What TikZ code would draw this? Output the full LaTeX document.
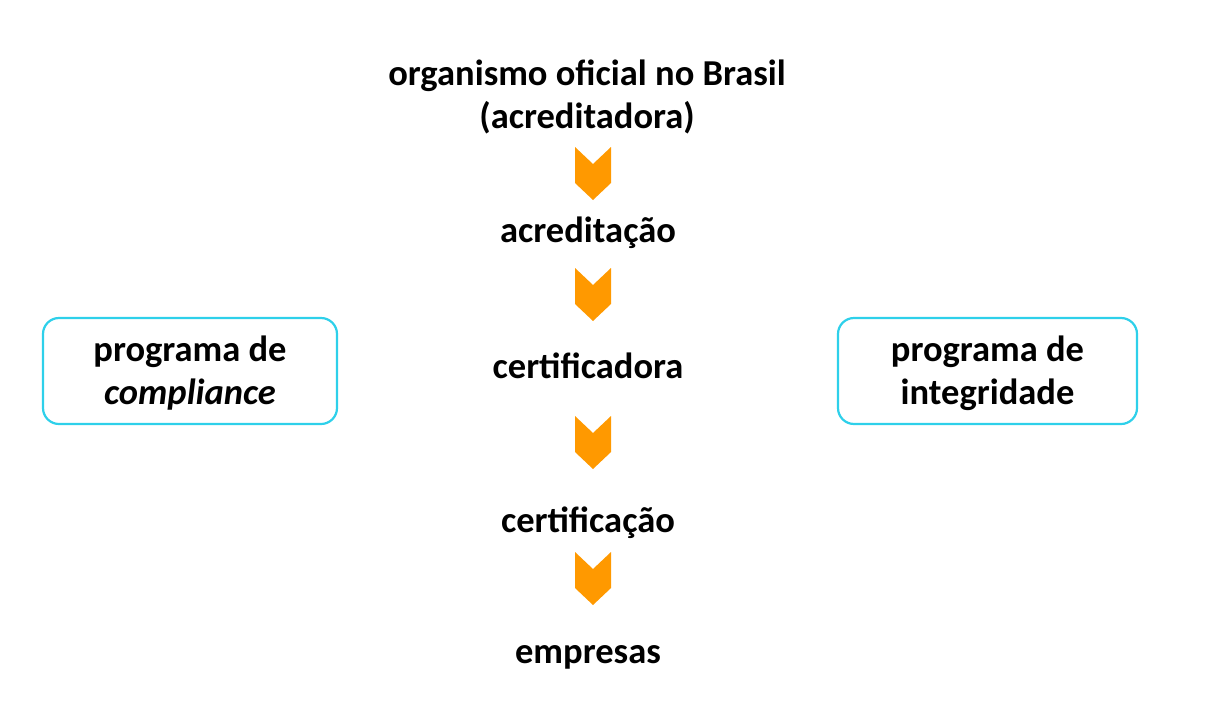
\documentclass[tikz,border=0pt]{standalone}
\usepackage{fontspec}
\setmainfont{Carlito}
\definecolor{chevorange}{HTML}{FF9900}
\definecolor{boxcyan}{HTML}{2ED0EA}
\tikzset{
  lbl/.style={font=\fontsize{36.5}{43}\selectfont\bfseries, align=center, inner sep=0pt, anchor=base},
  sidebox/.style={draw=boxcyan, line width=2.2pt, rounded corners=16pt, minimum width=294pt, minimum height=106pt, font=\fontsize{36.5}{43}\selectfont\bfseries, align=center, inner sep=0pt, text depth=2pt},
  chev/.pic={\fill[chevorange] (-18,0) -- (0,17) -- (18,0) -- (18,36) -- (0,53) -- (-18,36) -- cycle;}
}
\begin{document}
\begin{tikzpicture}[x=1pt,y=-1pt]
\useasboundingbox (0,0) rectangle (1210,726);
\node[lbl] (org) at (587,128) {organismo oficial no Brasil\\(acreditadora)};
\node[lbl] (acr) at (588,242) {acreditação};
\node[lbl] (cert) at (588,378) {certificadora};
\node[lbl] (certf) at (588,532) {certificação};
\node[lbl] (emp) at (588,663) {empresas};
\node[sidebox] (comp) at (190,371) {programa de\\\textit{compliance}};
\node[sidebox, minimum width=299pt] (integ) at (987.5,371) {programa de\\integridade};
\pic at (593,147) {chev};
\pic at (593,268) {chev};
\pic at (593,416) {chev};
\pic at (593,552) {chev};
\end{tikzpicture}
\end{document}
